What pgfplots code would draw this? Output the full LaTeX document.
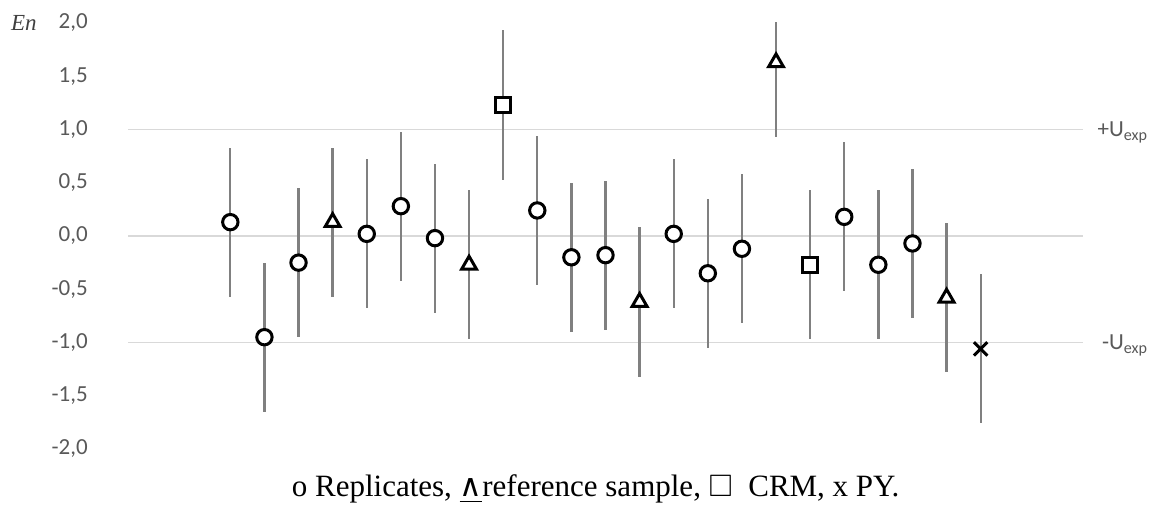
\documentclass[border=0pt]{standalone}
\usepackage{fontspec}
\usepackage{amssymb}
\usepackage{pgfplots}
\usepackage{pgfplotstable}
\pgfplotsset{compat=1.18}
\setmainfont{Liberation Serif}
\newfontfamily\calibri{Carlito}
\newfontfamily\symfont{DejaVu Sans}
\definecolor{ticktext}{RGB}{89,89,89}
\definecolor{gridgray}{RGB}{217,217,217}
\definecolor{bargray}{RGB}{128,128,128}

% En values, expanded uncertainty 0.7
\pgfplotstableread{
x y e
1 0.13 0.7
2 -0.95 0.7
3 -0.25 0.7
5 0.02 0.7
6 0.28 0.7
7 -0.02 0.7
10 0.24 0.7
11 -0.20 0.7
12 -0.18 0.7
14 0.02 0.7
15 -0.35 0.7
16 -0.12 0.7
19 0.18 0.7
20 -0.27 0.7
21 -0.07 0.7
}\replicates
\pgfplotstableread{
x y e
4 0.13 0.7
8 -0.27 0.7
13 -0.62 0.7
17 1.63 0.7
22 -0.58 0.7
}\refsample
\pgfplotstableread{
x y e
9 1.23 0.7
18 -0.27 0.7
}\crm
\pgfplotstableread{
x y e
23 -1.06 0.7
}\py

\begin{document}
\begin{tikzpicture}
\begin{axis}[
  at={(128bp,57bp)}, anchor=south west,
  scale only axis, width=955bp, height=426bp,
  xmin=-2, xmax=26, ymin=-2, ymax=2,
  axis line style={draw=none},
  xtick=\empty,
  ytick={-2,-1.5,-1,-0.5,0,0.5,1,1.5,2},
  yticklabels={{-2,0},{-1,5},{-1,0},{-0,5},{0,0},{0,5},{1,0},{1,5},{2,0}},
  major tick length=0pt,
  yticklabel style={font=\calibri\fontsize{23bp}{27bp}\selectfont, text=ticktext,
    anchor=east, inner sep=0pt, xshift=-40bp},
  extra y ticks={-1,0,1},
  extra y tick labels={},
  extra y tick style={grid=major},
  major grid style={gridgray, line width=1.5bp},
  clip mode=individual,
]
% error bars first, markers on top
\addplot[bargray, only marks, mark=none, error bars/.cd, y dir=both, y explicit,
  error mark=none, error bar style={bargray, line width=2.3bp}]
  table[x=x, y=y, y error=e]{\replicates};
\addplot[bargray, only marks, mark=none, error bars/.cd, y dir=both, y explicit,
  error mark=none, error bar style={bargray, line width=2.3bp}]
  table[x=x, y=y, y error=e]{\refsample};
\addplot[bargray, only marks, mark=none, error bars/.cd, y dir=both, y explicit,
  error mark=none, error bar style={bargray, line width=2.3bp}]
  table[x=x, y=y, y error=e]{\crm};
\addplot[bargray, only marks, mark=none, error bars/.cd, y dir=both, y explicit,
  error mark=none, error bar style={bargray, line width=2.3bp}]
  table[x=x, y=y, y error=e]{\py};

\addplot[only marks, mark=*, mark size=7.7bp,
  mark options={draw=black, fill=white, line width=3bp}]
  table[x=x, y=y]{\replicates};
\addplot[only marks, mark=triangle*, mark size=8.5bp,
  mark options={draw=black, fill=white, line width=3bp}]
  table[x=x, y=y]{\refsample};
\addplot[only marks, mark=square*, mark size=7.3bp,
  mark options={draw=black, fill=white, line width=3bp}]
  table[x=x, y=y]{\crm};
\addplot[only marks, mark=x, mark size=9.5bp,
  mark options={draw=black, line width=3bp}]
  table[x=x, y=y]{\py};

\node[anchor=east, inner sep=0pt, text={rgb,255:red,64;green,64;blue,64},
  font=\itshape\fontsize{23bp}{27bp}\selectfont] at (axis cs:-4.67,2) {En};
\node[anchor=base east, inner sep=0pt, text=ticktext,
  font=\calibri\fontsize{23bp}{27bp}\selectfont, yshift=-7.5bp]
  at (axis cs:27.9,1) {+U\textsubscript{exp}};
\node[anchor=base east, inner sep=0pt, text=ticktext,
  font=\calibri\fontsize{23bp}{27bp}\selectfont, yshift=-7.5bp]
  at (axis cs:27.9,-1) {-U\textsubscript{exp}};
\node[anchor=base, inner sep=0pt, font=\fontsize{31bp}{36bp}\selectfont]
  at (axis cs:11.71,-2.45)
  {o Replicates, \underline{{\symfont\char"2227}}reference sample, $\square$\ \ CRM, x PY.};
\end{axis}
\pgfresetboundingbox
\path[use as bounding box] (0,0) rectangle (1157bp,506bp);
\end{tikzpicture}
\end{document}
